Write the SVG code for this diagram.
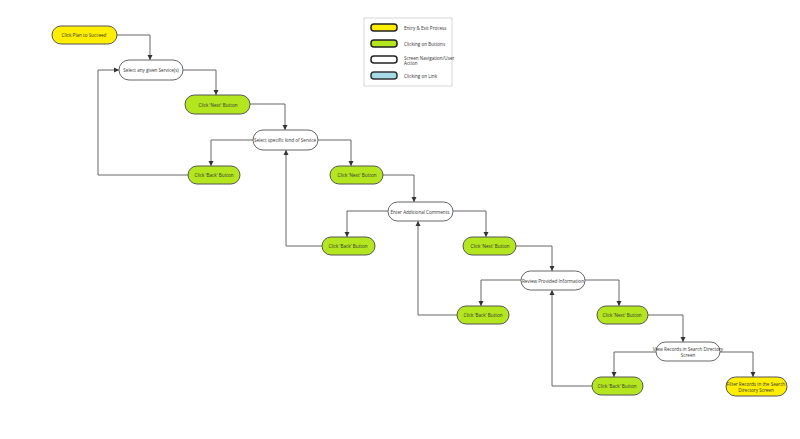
<svg xmlns="http://www.w3.org/2000/svg" width="800" height="439" viewBox="0 0 800 439">
<style>
text{font-family:"Open Sans","Liberation Sans",sans-serif;font-size:4.6px;fill:#333;text-anchor:middle;dominant-baseline:central}
.y{fill:#ffee00;stroke:#555;stroke-width:1}
.g{fill:#b3e61e;stroke:#555;stroke-width:1}
.w{fill:#fff;stroke:#666;stroke-width:1}
.b{fill:#a6dce8;stroke:#333;stroke-width:1.5}
#conn path{fill:none;stroke:#555;stroke-width:0.9;marker-end:url(#ah)}
.lt{text-anchor:start}
</style>
<defs><marker id="ah" markerWidth="6" markerHeight="6" refX="5" refY="3" orient="auto" markerUnits="userSpaceOnUse"><path d="M0,0.5 L5,3 L0,5.5Z" fill="#333"/></marker></defs>
<rect width="800" height="439" fill="#fff"/>
<g id="legend">
<rect x="364" y="18" width="88" height="68" fill="#fff" stroke="#ccc" stroke-width="0.8"/>
<rect x="371" y="24" width="26" height="7" rx="3" fill="#ffee00" stroke="#222" stroke-width="1.5"/>
<rect x="371" y="40" width="26" height="7" rx="3" fill="#b3e61e" stroke="#222" stroke-width="1.5"/>
<rect x="371" y="56" width="26" height="7" rx="3" fill="#fff" stroke="#222" stroke-width="1.5"/>
<rect x="371" y="72" width="26" height="7" rx="3" class="b"/>
<text class="lt" x="404" y="28">Entry &amp; Exit Process</text>
<text class="lt" x="404" y="44">Clicking on Buttons</text>
<text class="lt" x="404" y="58">Screen Navigation/User</text>
<text class="lt" x="404" y="63">Action</text>
<text class="lt" x="404" y="76">Clicking on Link</text>
</g>
<g id="conn">
<path d="M117,35 H150 V60"/>
<path d="M183,70 H216 V95"/>
<path d="M250,104 H285 V130"/>
<path d="M253,140 H211 V166"/>
<path d="M318,140 H351 V166"/>
<path d="M188,175 H98 V70 H119"/>
<path d="M383,175 H414 V202"/>
<path d="M388,211 H347 V237"/>
<path d="M453,211 H486 V237"/>
<path d="M322,246 H286 V150"/>
<path d="M516,246 H552 V271"/>
<path d="M521,280 H481 V306"/>
<path d="M585,280 H619 V306"/>
<path d="M457,315 H418 V221"/>
<path d="M648,315 H683 V342"/>
<path d="M656,352 H614 V377"/>
<path d="M720,352 H753 V377"/>
<path d="M592,386 H552 V290"/>
</g>
<g id="n1"><rect class="y" x="52" y="26" width="65" height="18" rx="9"/><text x="84" y="35">Click Plan to Succeed</text></g>
<g id="n2"><rect class="w" x="119" y="60" width="64" height="20" rx="10"/><text x="151" y="70">Select any given Service(s)</text></g>
<g id="n3"><rect class="g" x="185" y="95" width="65" height="19" rx="9.5"/><text x="218" y="104.5">Click 'Next' Button</text></g>
<g id="n4"><rect class="w" x="253" y="130" width="65" height="20" rx="10"/><text x="285" y="140">Select specific kind of Service</text></g>
<g id="n5"><rect class="g" x="188" y="166" width="52" height="18" rx="9"/><text x="214" y="175">Click 'Back' Button</text></g>
<g id="n6"><rect class="g" x="330" y="166" width="53" height="18" rx="9"/><text x="357" y="175">Click 'Next' Button</text></g>
<g id="n7"><rect class="w" x="388" y="202" width="65" height="19" rx="9.5"/><text x="420" y="211.5">Enter Additional Comments</text></g>
<g id="n8"><rect class="g" x="322" y="237" width="53" height="18" rx="9"/><text x="348" y="246">Click 'Back' Button</text></g>
<g id="n9"><rect class="g" x="463" y="237" width="53" height="18" rx="9"/><text x="490" y="246">Click 'Next' Button</text></g>
<g id="n10"><rect class="w" x="521" y="271" width="64" height="19" rx="9.5"/><text x="553" y="280.5">Review Provided Information</text></g>
<g id="n11"><rect class="g" x="457" y="306" width="52" height="18" rx="9"/><text x="483" y="315">Click 'Back' Button</text></g>
<g id="n12"><rect class="g" x="597" y="306" width="51" height="18" rx="9"/><text x="622" y="315">Click 'Next' Button</text></g>
<g id="n13"><rect class="w" x="656" y="342" width="64" height="19" rx="9.5"/><text x="688" y="349">View Records in Search Directory</text><text x="688" y="355">Screen</text></g>
<g id="n14"><rect class="g" x="592" y="377" width="51" height="18" rx="9"/><text x="617" y="386">Click 'Back' Button</text></g>
<g id="n15"><rect class="y" x="726" y="377" width="61" height="19" rx="9.5"/><text x="756" y="383.5">Filter Records in the Search</text><text x="756" y="389.5">Directory Screen</text></g>
</svg>
